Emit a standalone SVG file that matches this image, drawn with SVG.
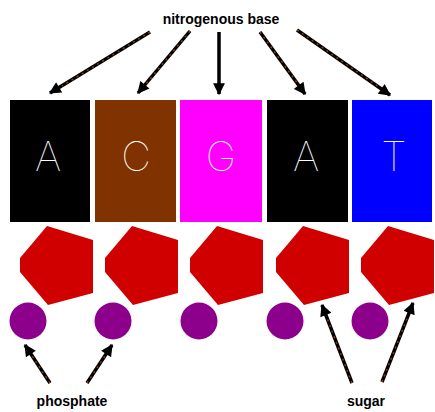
<svg xmlns="http://www.w3.org/2000/svg" width="435" height="412" viewBox="0 0 435 412">
<style>
.lbl{font-family:"Liberation Sans",Arial,sans-serif;font-weight:bold;font-size:14px;fill:#000;text-anchor:middle}
.base{font-family:Inter,"Liberation Sans",sans-serif;font-weight:100;font-size:41px;fill:#fff;text-anchor:middle}
.sh{stroke:#000;stroke-width:3.5;fill:none}
.dash{stroke:#8a3a10;stroke-width:1.5;stroke-dasharray:2 4;fill:none}
.sugar{fill:#d00000}
.phos{fill:#8c008c}
</style>
<defs>
<marker id="ah" viewBox="0 0 10 10" refX="9" refY="5" markerWidth="4" markerHeight="3.4" orient="auto" markerUnits="strokeWidth">
<path d="M0,0 L10,5 L0,10 z" fill="#000"/>
</marker>
</defs>
<rect width="435" height="412" fill="#fff"/>
<g id="base-A1"><rect x="10" y="100" width="80" height="122" fill="#000"/><text class="base" x="48" y="171">A</text></g>
<g id="base-C"><rect x="95" y="100" width="81" height="122" fill="#803300"/><text class="base" x="136" y="171">C</text></g>
<g id="base-G"><rect x="180" y="100" width="82" height="122" fill="#ff00ff"/><text class="base" x="221" y="171">G</text></g>
<g id="base-A2"><rect x="267" y="100" width="81" height="122" fill="#000"/><text class="base" x="306" y="171">A</text></g>
<g id="base-T"><rect x="352" y="100" width="80" height="122" fill="#0000ff"/><text class="base" x="394" y="171">T</text></g>
<g id="sugar1"><polygon class="sugar" points="47,226 93,240 93,293 48,305 20,272 20,258"/></g>
<g id="sugar2"><polygon class="sugar" points="47,226 93,240 93,293 48,305 20,272 20,258" transform="translate(85,0)"/></g>
<g id="sugar3"><polygon class="sugar" points="47,226 93,240 93,293 48,305 20,272 20,258" transform="translate(170,0)"/></g>
<g id="sugar4"><polygon class="sugar" points="47,226 93,240 93,293 48,305 20,272 20,258" transform="translate(256,0)"/></g>
<g id="sugar5"><polygon class="sugar" points="47,226 93,240 93,293 48,305 20,272 20,258" transform="translate(341,0)"/></g>
<g id="phosphate1"><circle class="phos" cx="28" cy="321" r="18.5"/></g>
<g id="phosphate2"><circle class="phos" cx="113" cy="321" r="18.5"/></g>
<g id="phosphate3"><circle class="phos" cx="199" cy="321" r="18.5"/></g>
<g id="phosphate4"><circle class="phos" cx="285" cy="321" r="18.5"/></g>
<g id="phosphate5"><circle class="phos" cx="370" cy="321" r="18.5"/></g>
<g id="label-base"><text class="lbl" x="221" y="24">nitrogenous base</text></g>
<g id="label-phosphate"><text class="lbl" x="72" y="406">phosphate</text></g>
<g id="label-sugar"><text class="lbl" x="366" y="406">sugar</text></g>
<g id="connectors">
<line class="sh" x1="150" y1="32" x2="50" y2="93" marker-end="url(#ah)"/>
<line class="sh" x1="190" y1="31" x2="138" y2="93" marker-end="url(#ah)"/>
<line class="sh" x1="219" y1="32" x2="219" y2="94" marker-end="url(#ah)"/>
<line class="sh" x1="260" y1="32" x2="305" y2="94" marker-end="url(#ah)"/>
<line class="sh" x1="297" y1="30" x2="390" y2="95" marker-end="url(#ah)"/>
<line class="sh" x1="50" y1="383" x2="25" y2="345" marker-end="url(#ah)"/>
<line class="sh" x1="87" y1="383" x2="112" y2="345" marker-end="url(#ah)"/>
<line class="sh" x1="352" y1="383" x2="322" y2="305" marker-end="url(#ah)"/>
<line class="sh" x1="382" y1="382" x2="413" y2="303" marker-end="url(#ah)"/>
<line class="dash" x1="150" y1="32" x2="62" y2="86"/>
<line class="dash" x1="190" y1="31" x2="146" y2="84"/>
<line class="dash" x1="260" y1="32" x2="298" y2="84"/>
<line class="dash" x1="297" y1="30" x2="379" y2="87"/>
<line class="dash" x1="50" y1="383" x2="32" y2="356"/>
<line class="dash" x1="87" y1="383" x2="105" y2="356"/>
<line class="dash" x1="352" y1="383" x2="327" y2="318"/>
<line class="dash" x1="382" y1="382" x2="408" y2="316"/>
</g>
</svg>
